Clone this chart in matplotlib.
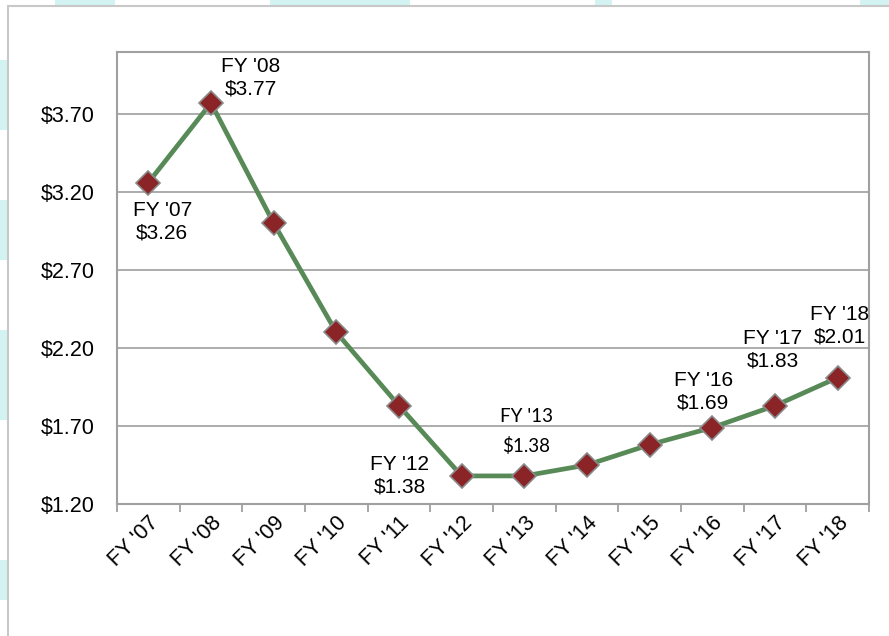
import matplotlib
matplotlib.use("Agg")
import matplotlib.pyplot as plt
from matplotlib.patches import Rectangle

categories = ["FY '07", "FY '08", "FY '09", "FY '10", "FY '11", "FY '12",
              "FY '13", "FY '14", "FY '15", "FY '16", "FY '17", "FY '18"]
values = [3.26, 3.77, 3.00, 2.30, 1.83, 1.38, 1.38, 1.45, 1.58, 1.69, 1.83, 2.01]
yticks = [1.20, 1.70, 2.20, 2.70, 3.20, 3.70]
ytick_labels = ["$1.20", "$1.70", "$2.20", "$2.70", "$3.20", "$3.70"]
# labelled points: index -> pixel offset of label centre from the point
label_idx = [0, 1, 5, 6, 9, 10, 11]
label_offsets = {0: (14, -39), 1: (40, 25), 5: (-62, 0), 6: (2, 44),
                 9: (-9, 36), 10: (-2, 56), 11: (2, 52)}

W, H = 889, 636
fig = plt.figure(figsize=(W / 100, H / 100), dpi=100)
fig.patch.set_facecolor("white")

# light cyan background fragments outside the white frame
cyan = "#d2f3f1"
def frect(x0, y0, x1, y1):
    fig.patches.append(Rectangle((x0 / W, 1 - y1 / H), (x1 - x0) / W, (y1 - y0) / H,
                                 transform=fig.transFigure, facecolor=cyan,
                                 edgecolor="none", zorder=0))
for (a, b) in [(55, 115), (270, 410), (595, 612), (860, 889)]:
    frect(a, 0, b, 6)
for (a, b) in [(60, 130), (200, 260), (330, 420), (560, 600)]:
    frect(0, a, 7, b)
# outer white frame (extends past right and bottom edges)
fig.patches.append(Rectangle((8 / W, -0.1), 1.2, 1.1 - 6 / H, transform=fig.transFigure,
                             facecolor="white", edgecolor="#c8c8c8", linewidth=1.5,
                             zorder=1))

ax = fig.add_axes([117 / W, 1 - 504 / H, (869 - 117) / W, (504 - 52) / H])
ax.set_zorder(2)
x = list(range(len(categories)))
ax.plot(x, values, color="#588a58", linewidth=3.4, zorder=3,
        marker="D", markersize=12, markerfacecolor="#8b2426",
        markeredgecolor="#8a8a8a", markeredgewidth=1.2)

ax.set_xlim(-0.5, len(categories) - 0.5)
ax.set_ylim(1.20, 4.097)
ax.set_yticks(yticks)
ax.set_yticklabels(ytick_labels, fontsize=15.5, family="Liberation Sans")
ax.tick_params(axis="y", length=0, pad=16)
ax.yaxis.grid(True, color="#a6a6a6", linewidth=1.3)
ax.set_axisbelow(True)

ax.set_xticks(x)
ax.set_xticklabels(categories, rotation=45, ha="right", va="top",
                   rotation_mode="anchor", fontsize=15.5, family="Liberation Sans")
ax.tick_params(axis="x", which="major", length=0, pad=6)
ax.set_xticks([i - 0.5 for i in range(len(categories) + 1)], minor=True)
ax.tick_params(axis="x", which="minor", length=6, width=1.3, color="#a0a0a0")

for s in ax.spines.values():
    s.set_color("#a0a0a0")
    s.set_linewidth(1.5)

for i in label_idx:
    dx, dy = label_offsets[i]
    txt = f"{categories[i]}\n${values[i]:.2f}"
    if i == 6:
        ax.annotate(txt, (x[i], values[i]), xytext=(dx, dy), textcoords="offset pixels",
                    ha="center", va="center", fontsize=13.5, family="Lato",
                    linespacing=1.8, zorder=4)
    else:
        ax.annotate(txt, (x[i], values[i]), xytext=(dx, dy), textcoords="offset pixels",
                    ha="center", va="center", fontsize=15, family="Liberation Sans",
                    linespacing=1.25, zorder=4)

fig.savefig("out.png", dpi=100)
